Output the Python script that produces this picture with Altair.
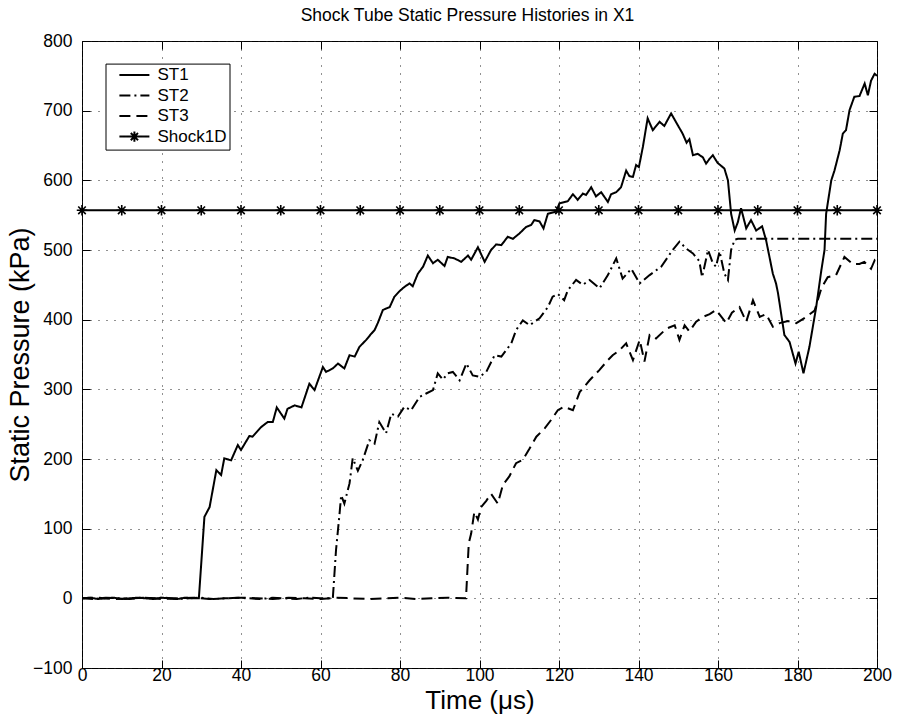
import altair as alt
import pandas as pd

# ---------------- data ----------------
st1_t = [0, 2, 4, 6, 8, 10, 12, 14, 16, 18, 20, 22, 24, 26, 28, 29.4,
         30.8, 32.1, 33.8, 35.0, 35.8, 37.5, 39.2, 40.0, 42.1, 42.9, 45.1, 46.7, 48.0, 49.0,
         50.9, 51.7, 53.5, 55.2, 57.2, 58.5, 60.6, 61.4, 63.1, 64.4, 66.0, 67.3, 68.6, 69.8,
         71.5, 72.8, 73.6, 74.4, 75.7, 77.4, 78.6, 79.9, 81.1, 82.4, 83.2, 84.5, 85.8, 87.0,
         88.3, 89.5, 91.2, 92.0, 93.7, 95.4, 97.1, 97.9, 99.6, 101.3, 102.9, 104.2, 105.5,
         107.1, 108.4, 110.1, 111.7, 113.0, 113.8, 115.1, 116.1, 117.2, 119.3, 120.1, 122.2,
         123.5, 124.7, 126.0, 126.8, 128.1, 129.3, 130.6, 132.3, 133.1, 134.4, 135.6, 136.9,
         137.7, 138.6, 139.4, 140.1, 141.1, 142.3, 143.6, 145.3, 146.5, 148.2, 149.9, 151.1,
         152.1, 152.8, 153.7, 154.9, 156.2, 157.0, 157.9, 158.7, 159.9, 161.6, 162.5, 163.3,
         164.2, 165.0, 165.8, 167.1, 168.3, 169.6, 171.1, 172.1, 173.8, 174.6, 175.1, 176.7,
         178.0, 179.5, 180.3, 181.5, 183.0, 184.7, 186.0, 186.8, 187.2, 188.5, 189.3, 190.6,
         191.4, 192.2, 193.1, 194.3, 195.6, 196.9, 197.7, 198.5, 199.4, 200]
st1_p = [0, 1, -1, 0, 1, -1, 0, 1, 0, -1, 1, 0, -1, 1, 0, 0,
         117, 131, 184, 177, 201, 198, 220, 213, 233, 232, 246, 253, 253, 274,
         258, 272, 277, 274, 308, 299, 332, 325, 330, 337, 330, 349, 347, 361,
         371, 380, 385, 395, 414, 418, 433, 441, 447, 452, 448, 466, 476, 492,
         481, 486, 477, 490, 488, 483, 492, 486, 504, 483, 500, 508, 507,
         519, 516, 524, 533, 536, 543, 541, 531, 552, 555, 567, 570,
         580, 572, 581, 579, 590, 577, 583, 569, 580, 583, 590, 614,
         606, 605, 622, 619, 648, 689, 672, 684, 678, 696, 679, 667,
         654, 659, 636, 638, 633, 624, 631, 636, 625, 617, 600, 552,
         528, 540, 560, 531, 543, 528, 534, 514, 466, 452, 438, 378,
         368, 337, 354, 323, 361, 418, 471, 500, 552, 600, 614, 643,
         667, 672, 701, 720, 721, 739, 722, 743, 753, 750]

st2_t = [0, 3, 6, 9, 12, 15, 18, 21, 24, 27, 30, 33, 36, 39, 42, 45, 48, 51, 54, 57, 60, 63.1,
         63.9, 64.8, 65.2, 66.0, 67.3, 68.1, 69.4, 70.6, 72.3, 73.6, 74.8, 76.5, 77.8, 79.5,
         81.1, 82.8, 84.9, 86.6, 88.3, 89.5, 90.8, 92.0, 93.3, 95.0, 96.7, 98.3, 100.0, 101.7,
         103.8, 105.5, 108.0, 109.2, 110.9, 112.6, 115.1, 117.2, 118.4, 119.7, 121.3, 122.2,
         124.3, 126.0, 127.7, 130.2, 132.3, 134.4, 136.0, 138.2, 140.3, 142.8, 145.7, 148.6,
         150.3, 152.0, 153.7, 155.3, 156.0, 157.5, 158.7, 159.5, 160.4, 161.6, 162.5, 163.3,
         164.2, 165.0, 200]
st2_p = [0, -1, 1, 0, -1, 1, 0, 1, -1, 0, 1, -1, 0, 1, 0, -1, 1, 0, -1, 1, 0, 0,
         69, 122, 148, 136, 165, 201, 183, 198, 227, 222, 253, 237, 265, 261,
         275, 270, 289, 294, 299, 323, 314, 323, 325, 313, 337, 320, 318, 325,
         349, 347, 366, 385, 399, 392, 402, 418, 433, 437, 428, 442,
         457, 450, 457, 445, 464, 488, 459, 473, 452, 464, 476, 500,
         512, 502, 495, 484, 461, 500, 481, 476, 498, 466, 457, 500,
         515, 516, 516]

st3_t = [0, 4, 8, 12, 16, 20, 24, 28, 32, 36, 40, 44, 48, 52, 56, 60, 64, 68, 72, 76, 80,
         84, 88, 92, 96.6,
         97.3, 97.9, 98.7, 99.6, 100.4, 101.7, 102.9, 104.6, 105.9, 107.5, 109.2, 110.9,
         112.6, 114.3, 116.4, 118.0, 119.7, 121.3, 123.5, 125.2, 127.7, 130.2, 132.3, 133.5,
         135.2, 136.9, 138.6, 140.3, 141.5, 142.8, 144.4, 147.0, 149.1, 150.3, 151.6, 152.8,
         154.5, 156.2, 157.9, 159.5, 162.1, 163.5, 165.4, 167.1, 168.8, 170.5, 172.1, 173.8,
         175.5, 177.6, 179.7, 182.2, 184.3, 186.0, 187.6, 189.7, 191.8, 193.9, 195.6, 196.8,
         198.5, 199.4, 200]
st3_p = [0, 1, -1, 0, 1, -1, 0, 1, -1, 0, 1, 0, -1, 1, 0, -1, 1, 0, -1, 0, 1,
         -1, 0, 1, 0,
         79, 93, 124, 113, 131, 140, 150, 136, 163, 175, 194, 199,
         215, 232, 244, 256, 270, 275, 270, 296, 313, 328, 342, 349,
         356, 366, 342, 371, 340, 378, 373, 387, 392, 371, 392, 383,
         397, 404, 408, 414, 395, 410, 418, 397, 428, 404, 408, 390,
         395, 398, 395, 404, 413, 445, 461, 464, 490, 480, 480, 483,
         473, 485, 480]

shock_t = [0, 10, 20, 30, 40, 50, 60, 70, 80, 90, 100, 110, 120, 130, 140, 150, 160, 170,
           180, 190, 200]
shock_p = [557, 557, 557, 557, 557, 557, 557, 557, 557, 557, 557, 557, 557, 557, 557, 557,
           557, 557, 557, 557, 557]

series_names = ["ST1", "ST2", "ST3", "Shock1D"]
x_ticks = [0, 20, 40, 60, 80, 100, 120, 140, 160, 180, 200]
y_ticks = [-100, 0, 100, 200, 300, 400, 500, 600, 700, 800]

rows = []
for name, ts, ps in [("ST1", st1_t, st1_p), ("ST2", st2_t, st2_p),
                     ("ST3", st3_t, st3_p), ("Shock1D", shock_t, shock_p)]:
    for i, (t, p) in enumerate(zip(ts, ps)):
        rows.append({"series": name, "t": t, "p": p, "i": i})
df = pd.DataFrame(rows)
shock_df = pd.DataFrame({"series": "Shock1D", "t": shock_t, "p": shock_p})

# ---------------- styling ----------------
FONT = "Liberation Sans"
W, H = 795, 627
ASTER = "M0,-1L0,1M-1,0L1,0M-0.72,-0.72L0.72,0.72M-0.72,0.72L0.72,-0.72"
# legend symbols: unit = sqrt(symbolSize)/2 = 4 px
LEG_LINE = "M0.6,0L8.1,0"
LEG_SHOCK = ("M0.6,0L8.1,0M4.35,-1.3L4.35,1.3M3.45,-0.9L5.25,0.9"
             "M3.45,0.9L5.25,-0.9")

x_scale = alt.Scale(domain=[0, 200], nice=False, zero=False)
y_scale = alt.Scale(domain=[-100, 800], nice=False, zero=False)

axis_common = dict(
    labelFont=FONT, titleFont=FONT, labelColor="black", titleColor="black",
    tickColor="black", tickWidth=1, tickSize=alt.ExprRef(expr="-8"),
    domain=False, labelFontSize=17.5, titleFontWeight="normal",
    labelFlush=False,
)

x_axis_bottom = alt.Axis(
    orient="bottom", values=x_ticks, title="Time (\u03bcs)", grid=True,
    gridColor="#222", gridDash=[1, 7], gridWidth=1, labelPadding=6.5,
    titleFontSize=26, titleY=32, titleBaseline="middle", **axis_common)
y_axis_left = alt.Axis(
    orient="left", values=y_ticks, title="Static Pressure (kPa)", grid=True,
    gridColor="#222", gridDash=[1, 7], gridWidth=1, labelPadding=18,
    titleFontSize=27, titleX=-62, titleBaseline="middle", **axis_common)
x_axis_top = alt.Axis(orient="top", values=x_ticks, title=None, labels=False,
                      grid=False, **axis_common)
y_axis_right = alt.Axis(orient="right", values=y_ticks, title=None, labels=False,
                        grid=False, **axis_common)

legend = alt.Legend(
    title=None, orient="none", legendX=23.5, legendY=22.6,
    fillColor="white", strokeColor="black", padding=3, cornerRadius=0,
    labelFont=FONT, labelFontSize=17, labelColor="black", labelOffset=32,
    symbolSize=64, symbolStrokeWidth=2, symbolStrokeColor="black",
    symbolFillColor="transparent",
    symbolType=alt.ExprRef(expr="datum.value == 'Shock1D' ? '" + LEG_SHOCK + "' : '" + LEG_LINE + "'"),
    rowPadding=2.5,
)

lines = alt.Chart(df).mark_line(color="black", clip=True).encode(
    x=alt.X("t:Q", scale=x_scale, axis=x_axis_bottom),
    y=alt.Y("p:Q", scale=y_scale, axis=y_axis_left),
    order="i:Q",
    strokeDash=alt.StrokeDash(
        "series:N",
        scale=alt.Scale(domain=series_names,
                        range=[[1, 0], [11, 4, 2, 4], [11, 6], [1, 0]]),
        legend=legend, sort=series_names),
    strokeWidth=alt.StrokeWidth(
        "series:N",
        scale=alt.Scale(domain=series_names, range=[2, 2, 2, 2.6]),
        legend=None),
)

markers = alt.Chart(shock_df).mark_point(
    shape=ASTER, filled=False, stroke="black", strokeWidth=1.6, size=110,
    opacity=1, clip=False,
).encode(
    x=alt.X("t:Q", scale=x_scale, axis=x_axis_top),
    y=alt.Y("p:Q", scale=y_scale, axis=y_axis_right),
)

chart = alt.layer(lines, markers).resolve_axis(
    x="independent", y="independent"
).properties(
    width=W, height=H,
    title=alt.TitleParams("Shock Tube Static Pressure Histories in X1", font=FONT,
                          fontSize=17.5, fontWeight="normal", color="black",
                          anchor="middle", offset=8, dx=-12),
    autosize=alt.AutoSizeParams(type="none"),
    padding={"left": 82, "top": 41, "right": 20, "bottom": 50},
    background="white",
).configure_view(stroke="black", strokeWidth=1)

chart.save("out.html", embed_options={"renderer": "svg", "actions": False})
